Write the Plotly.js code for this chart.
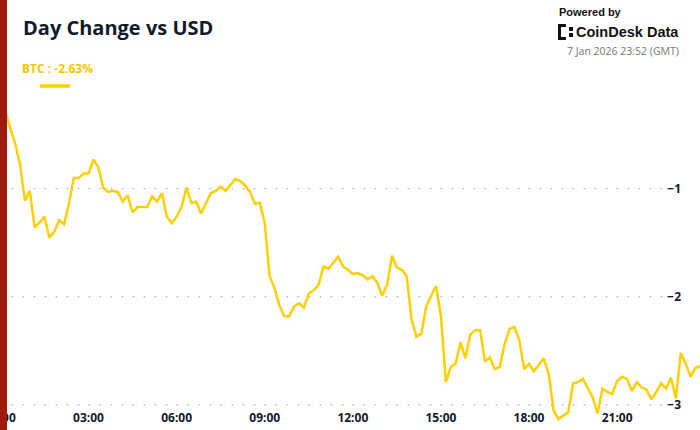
<!DOCTYPE html>
<html>
<head>
<meta charset="utf-8">
<script src="https://cdn.plot.ly/plotly-3.0.1.min.js"></script>
<style>
  html, body { margin: 0; padding: 0; background: #fff; }
  #chart { width: 700px; height: 430px; }
</style>
</head>
<body>
<div id="chart"></div>
<script>
const DAY = "2026-01-07";

const times = [
  "00:00", "00:10", "00:20", "00:30", "00:40", "00:50", "01:00", "01:10", "01:20", "01:30", "01:40", "01:50",
  "02:00", "02:10", "02:20", "02:30", "02:40", "02:50", "03:00", "03:10", "03:20", "03:30", "03:40", "03:50",
  "04:00", "04:10", "04:20", "04:30", "04:40", "04:50", "05:00", "05:10", "05:20", "05:30", "05:40", "05:50",
  "06:00", "06:10", "06:20", "06:30", "06:40", "06:50", "07:00", "07:10", "07:20", "07:30", "07:40", "07:50",
  "08:00", "08:10", "08:20", "08:30", "08:40", "08:50", "09:00", "09:10", "09:20", "09:30", "09:40", "09:50",
  "10:00", "10:10", "10:20", "10:30", "10:40", "10:50", "11:00", "11:10", "11:20", "11:30", "11:40", "11:50",
  "12:00", "12:10", "12:20", "12:30", "12:40", "12:50", "13:00", "13:10", "13:20", "13:30", "13:40", "13:50",
  "14:00", "14:10", "14:20", "14:30", "14:40", "14:50", "15:00", "15:10", "15:20", "15:30", "15:40", "15:50",
  "16:00", "16:10", "16:20", "16:30", "16:40", "16:50", "17:00", "17:10", "17:20", "17:30", "17:40", "17:50",
  "18:00", "18:10", "18:20", "18:30", "18:40", "18:50", "19:00", "19:10", "19:20", "19:30", "19:40", "19:50",
  "20:00", "20:10", "20:20", "20:30", "20:40", "20:50", "21:00", "21:10", "21:20", "21:30", "21:40", "21:50",
  "22:00", "22:10", "22:20", "22:30", "22:40", "22:50", "23:00", "23:10", "23:20", "23:30", "23:40", "23:50"
];

// BTC day change in %
const btcChange = [
  -0.12, -0.29, -0.44, -0.58, -0.77, -1.11, -1.02, -1.36, -1.31, -1.26, -1.45, -1.40,
  -1.29, -1.33, -1.14, -0.90, -0.90, -0.86, -0.86, -0.73, -0.80, -0.99, -1.03, -1.02,
  -1.03, -1.12, -1.06, -1.22, -1.17, -1.17, -1.17, -1.07, -1.12, -1.04, -1.26, -1.32,
  -1.26, -1.17, -0.99, -1.13, -1.12, -1.23, -1.14, -1.04, -1.02, -0.98, -1.02, -0.96,
  -0.91, -0.93, -0.97, -1.03, -1.14, -1.13, -1.32, -1.81, -1.92, -2.08, -2.18, -2.18,
  -2.09, -2.06, -2.10, -1.97, -1.94, -1.89, -1.72, -1.74, -1.68, -1.63, -1.72, -1.75,
  -1.79, -1.78, -1.80, -1.84, -1.81, -1.87, -1.99, -1.89, -1.62, -1.73, -1.75, -1.81,
  -2.21, -2.37, -2.34, -2.09, -1.99, -1.90, -2.18, -2.79, -2.65, -2.62, -2.42, -2.57,
  -2.35, -2.31, -2.31, -2.60, -2.56, -2.67, -2.65, -2.44, -2.30, -2.28, -2.40, -2.67,
  -2.62, -2.69, -2.63, -2.57, -2.71, -3.05, -3.13, -3.10, -3.07, -2.80, -2.79, -2.76,
  -2.85, -2.93, -3.08, -2.85, -2.88, -2.90, -2.78, -2.74, -2.76, -2.87, -2.79, -2.84,
  -2.86, -2.95, -2.88, -2.80, -2.85, -2.75, -2.94, -2.52, -2.62, -2.74, -2.66, -2.64
];

const yTicks = [-1, -2, -3];
const legendLabel = "BTC : -2.63%";
const stampLabel = "7 Jan 2026 23:52 (GMT)";

const GOLD = "#ffcf00";
const DARK = "#111a2b";

const trace = {
  x: times.map(t => DAY + " " + t),
  y: btcChange,
  type: "scatter",
  mode: "lines",
  line: { color: GOLD, width: 2.5 },
  hoverinfo: "x+y"
};

// dotted gridlines that stop short of the right-hand labels
const gridShapes = yTicks.map(v => ({
  type: "line", xref: "paper", yref: "y",
  x0: 0.7 / 700, x1: 664 / 700, y0: v, y1: v,
  line: { color: "#9a9a9a", width: 1, dash: "1.5px,9.5px" },
  layer: "below"
}));

const layout = {
  width: 700,
  height: 430,
  margin: { l: 0, r: 0, t: 100, b: 0 },
  paper_bgcolor: "#fff",
  plot_bgcolor: "#fff",
  showlegend: false,
  font: { family: "Open Sans, sans-serif", color: DARK },
  xaxis: {
    type: "date",
    range: ["2026-01-06 23:59:11", "2026-01-07 23:49:15"],
    tick0: DAY + " 00:00",
    dtick: 3 * 3600 * 1000,
    tickformat: "%H:%M",
    ticklabelposition: "inside",
    ticklabeloverflow: "allow",
    ticklabelstandoff: 3,
    ticks: "",
    showgrid: false,
    zeroline: false,
    showline: false,
    tickfont: { size: 12, weight: 700, color: DARK }
  },
  yaxis: {
    range: [-3.233, -0.179],
    side: "right",
    tickvals: yTicks,
    ticklabelposition: "inside",
    ticklabelstandoff: 16,
    ticks: "",
    showgrid: false,
    zeroline: false,
    showline: false,
    tickfont: { size: 12, weight: 700, color: DARK }
  },
  annotations: [
    {
      text: "Day Change vs USD", xref: "paper", yref: "paper",
      x: 21 / 700, y: (430 - 27) / 330, xanchor: "left", yanchor: "middle",
      showarrow: false, font: { size: 20, weight: 700, color: DARK }
    },
    {
      text: legendLabel, xref: "paper", yref: "paper",
      x: 20 / 700, y: (430 - 68) / 330, xanchor: "left", yanchor: "middle",
      showarrow: false, font: { size: 12, weight: 700, color: "#f7c600" }
    },
    {
      text: "Powered by", xref: "paper", yref: "paper",
      x: 557 / 700, y: (430 - 12) / 330, xanchor: "left", yanchor: "middle",
      showarrow: false, font: { family: "Liberation Sans, Arial, sans-serif", size: 11, weight: 700, color: "#111" }
    },
    {
      text: "CoinDesk Data", xref: "paper", yref: "paper",
      x: 681 / 700, y: (430 - 32) / 330, xanchor: "right", yanchor: "middle",
      showarrow: false, font: { family: "Liberation Sans, Arial, sans-serif", size: 14.5, weight: 700, color: "#111" }
    },
    {
      text: stampLabel, xref: "paper", yref: "paper",
      x: 681 / 700, y: (430 - 51) / 330, xanchor: "right", yanchor: "middle",
      showarrow: false, font: { family: "Open Sans, sans-serif", size: 10.5, color: "#777" }
    }
  ],
  shapes: gridShapes.concat([
    // red bar on the left edge
    { type: "rect", xref: "paper", yref: "paper", x0: 0, x1: 7 / 700, y0: -0.01, y1: 1.31,
      fillcolor: "#9e1a0d", line: { width: 0 }, layer: "above" },
    // legend swatch
    { type: "line", xref: "paper", yref: "paper", x0: 40 / 700, x1: 70 / 700,
      y0: (430 - 86) / 330, y1: (430 - 86) / 330, line: { color: GOLD, width: 3.5 } },
    // CoinDesk logo mark
    { type: "rect", xref: "paper", yref: "paper", x0: 558 / 700, x1: 561 / 700,
      y0: (430 - 40) / 330, y1: (430 - 24) / 330, fillcolor: "#111", line: { width: 0 } },
    { type: "rect", xref: "paper", yref: "paper", x0: 558 / 700, x1: 566 / 700,
      y0: (430 - 27) / 330, y1: (430 - 24) / 330, fillcolor: "#111", line: { width: 0 } },
    { type: "rect", xref: "paper", yref: "paper", x0: 558 / 700, x1: 566 / 700,
      y0: (430 - 40) / 330, y1: (430 - 37) / 330, fillcolor: "#111", line: { width: 0 } },
    { type: "rect", xref: "paper", yref: "paper", x0: 569 / 700, x1: 573 / 700,
      y0: (430 - 31) / 330, y1: (430 - 27) / 330, fillcolor: "#111", line: { width: 0 } },
    { type: "rect", xref: "paper", yref: "paper", x0: 569 / 700, x1: 573 / 700,
      y0: (430 - 37) / 330, y1: (430 - 33) / 330, fillcolor: "#111", line: { width: 0 } }
  ])
};

Plotly.newPlot("chart", [trace], layout, { displayModeBar: false, staticPlot: true });
</script>
</body>
</html>
